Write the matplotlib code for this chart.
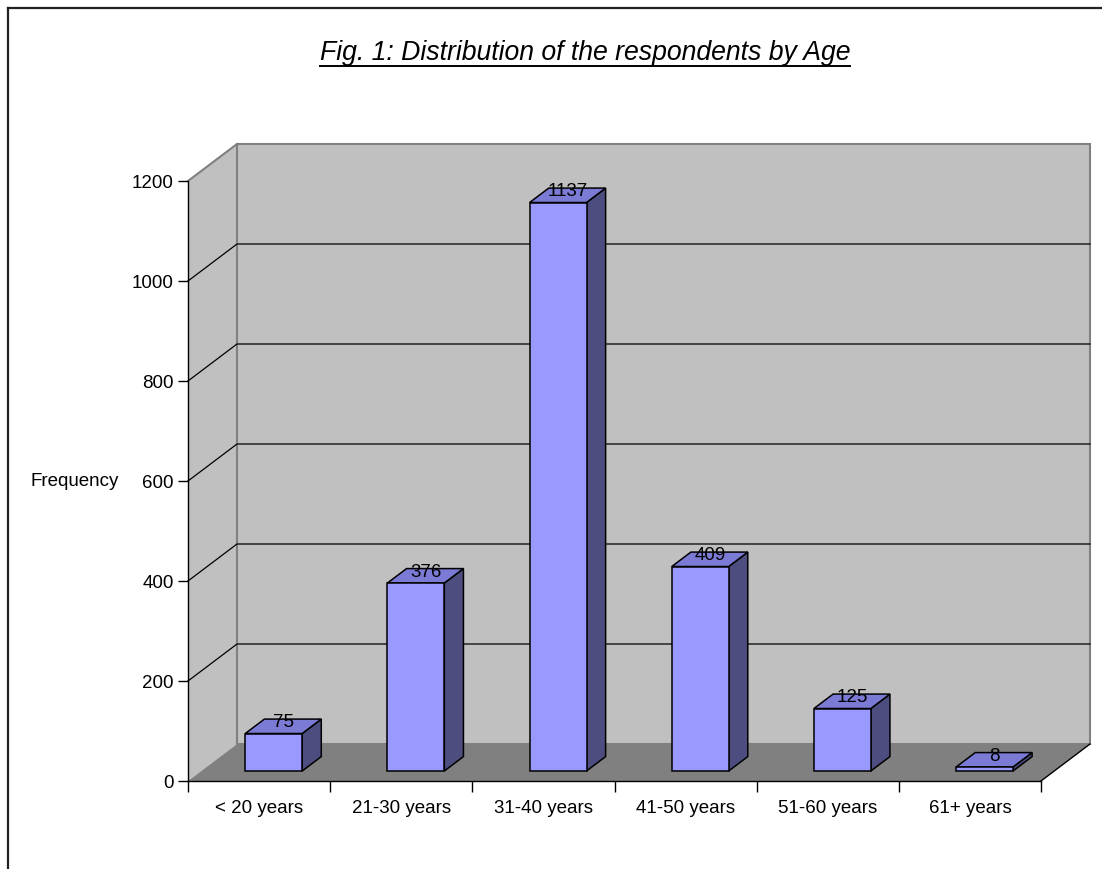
import matplotlib
matplotlib.use("Agg")
import matplotlib.pyplot as plt
from matplotlib.patches import Polygon
from matplotlib.lines import Line2D
import matplotlib.transforms as mtransforms

plt.rcParams['font.family'] = ['Liberation Sans', 'DejaVu Sans']

# Data
categories = ["< 20 years", "21-30 years", "31-40 years", "41-50 years", "51-60 years", "61+ years"]
frequencies = [75, 376, 1137, 409, 125, 8]
y_ticks = [0, 200, 400, 600, 800, 1000, 1200]
title = "Fig. 1: Distribution of the respondents by Age"
y_label = "Frequency"

W, H = 1102, 870
fig = plt.figure(figsize=(W / 100, H / 100), dpi=100)
fig.patch.set_facecolor("white")

# Front plane of the 3-D plot box (pixels)
left, right, bottom, top = 188, 1041, 782, 182
ax = fig.add_axes([left / W, 1 - bottom / H, (right - left) / W, (bottom - top) / H])
n = len(categories)
ymax = 1200
ax.set_xlim(0, n)
ax.set_ylim(0, ymax)
ax.patch.set_visible(False)

# Depth vector of the box expressed in data units
px_per_cat = (right - left) / n
px_per_val = (bottom - top) / ymax
DX = 49 / px_per_cat
DY = 37 / px_per_val


def pt(x, v, d):
    """Project a point (category, value, depth fraction) into data space."""
    return (x + d * DX, v + d * DY)


wall = "#c0c0c0"
floor = "#808080"
edge_gray = "#808080"
fs = 13.5

# Side wall, back wall and floor
ax.add_patch(Polygon([pt(0, 0, 0), pt(0, 0, 1), pt(0, ymax, 1), pt(0, ymax, 0)],
                     closed=True, facecolor=wall, edgecolor="none", clip_on=False, zorder=0.5))
ax.add_patch(Polygon([pt(0, 0, 1), pt(n, 0, 1), pt(n, ymax, 1), pt(0, ymax, 1)],
                     closed=True, facecolor=wall, edgecolor=edge_gray, lw=1.5,
                     clip_on=False, zorder=0.5))
ax.add_patch(Polygon([pt(0, 0, 0), pt(n, 0, 0), pt(n, 0, 1), pt(0, 0, 1)],
                     closed=True, facecolor=floor, edgecolor="none", clip_on=False, zorder=0.7))
# top edge of side wall
x0, y0 = pt(0, ymax, 0)
x1, y1 = pt(0, ymax, 1)
ax.add_line(Line2D([x0, x1], [y0, y1], color=edge_gray, lw=1.5, clip_on=False, zorder=0.8))
# right edge of floor
x0, y0 = pt(n, 0, 0)
x1, y1 = pt(n, 0, 1)
ax.add_line(Line2D([x0, x1], [y0, y1], color="black", lw=1, clip_on=False, zorder=0.8))

# Gridlines on back wall and side wall
for v in y_ticks[1:-1]:
    a = pt(0, v, 0)
    b = pt(0, v, 1)
    c = pt(n, v, 1)
    ax.add_line(Line2D([a[0], b[0], c[0]], [a[1], b[1], c[1]], color="black", lw=0.9,
                       clip_on=False, zorder=0.6))

# 3-D columns
front_c = "#9999ff"
top_c = "#7b7bd6"
side_c = "#4d4d80"
bx0, bx1 = 0.31, 0.71
d0, d1 = 0.27, 0.66
for i, v in enumerate(frequencies):
    xa, xb = i + bx0, i + bx1
    front = [pt(xa, 0, d0), pt(xb, 0, d0), pt(xb, v, d0), pt(xa, v, d0)]
    side = [pt(xb, 0, d0), pt(xb, 0, d1), pt(xb, v, d1), pt(xb, v, d0)]
    topf = [pt(xa, v, d0), pt(xb, v, d0), pt(xb, v, d1), pt(xa, v, d1)]
    for poly, c in ((side, side_c), (topf, top_c), (front, front_c)):
        ax.add_patch(Polygon(poly, closed=True, facecolor=c, edgecolor="black",
                             lw=1.1, joinstyle="miter", clip_on=False, zorder=3))
    lx, ly = pt((xa + xb) / 2, v, 0.47)
    ax.text(lx, ly, str(v), ha="center", va="baseline", fontsize=fs,
            color="black", zorder=4, clip_on=False)

# Axes, ticks and labels
for s in ("top", "right"):
    ax.spines[s].set_visible(False)
for s in ("left", "bottom"):
    ax.spines[s].set_color("black")
    ax.spines[s].set_linewidth(1)
ax.set_yticks(y_ticks)
ax.set_yticklabels([str(t) for t in y_ticks])
ax.tick_params(axis="y", direction="out", length=7.2, width=1, pad=3, labelsize=fs,
               colors="black")
ax.set_xticks(range(n + 1))
ax.set_xticklabels([])
ax.tick_params(axis="x", which="major", direction="out", length=7.9, width=1)
ax.set_xticks([i + 0.5 for i in range(n)], minor=True)
ax.set_xticklabels(categories, minor=True)
ax.tick_params(axis="x", which="minor", length=0, pad=13, labelsize=fs, colors="black")

trans = mtransforms.blended_transform_factory(fig.transFigure, ax.transData)
ax.text(31 / W, 600, y_label, transform=trans, ha="left", va="center", fontsize=fs)

# Title with underline
t = fig.text(585 / W, 1 - 53 / H, title, ha="center", va="center", fontsize=19.2,
             style="italic")
fig.canvas.draw()
bb = t.get_window_extent()
uy = (H - 66.5) / H
fig.add_artist(Line2D([bb.x0 / W, bb.x1 / W], [uy, uy], transform=fig.transFigure,
                      color="black", lw=1.4))

# Outer frame (left and top sides)
fig.add_artist(Line2D([7.5 / W, 7.5 / W], [0, 1 - 9 / H], transform=fig.transFigure,
                      color="#222222", lw=1.6))
fig.add_artist(Line2D([7.5 / W, 1], [1 - 9 / H, 1 - 9 / H], transform=fig.transFigure,
                      color="#222222", lw=1.6))

fig.savefig("out.png", dpi=100)
